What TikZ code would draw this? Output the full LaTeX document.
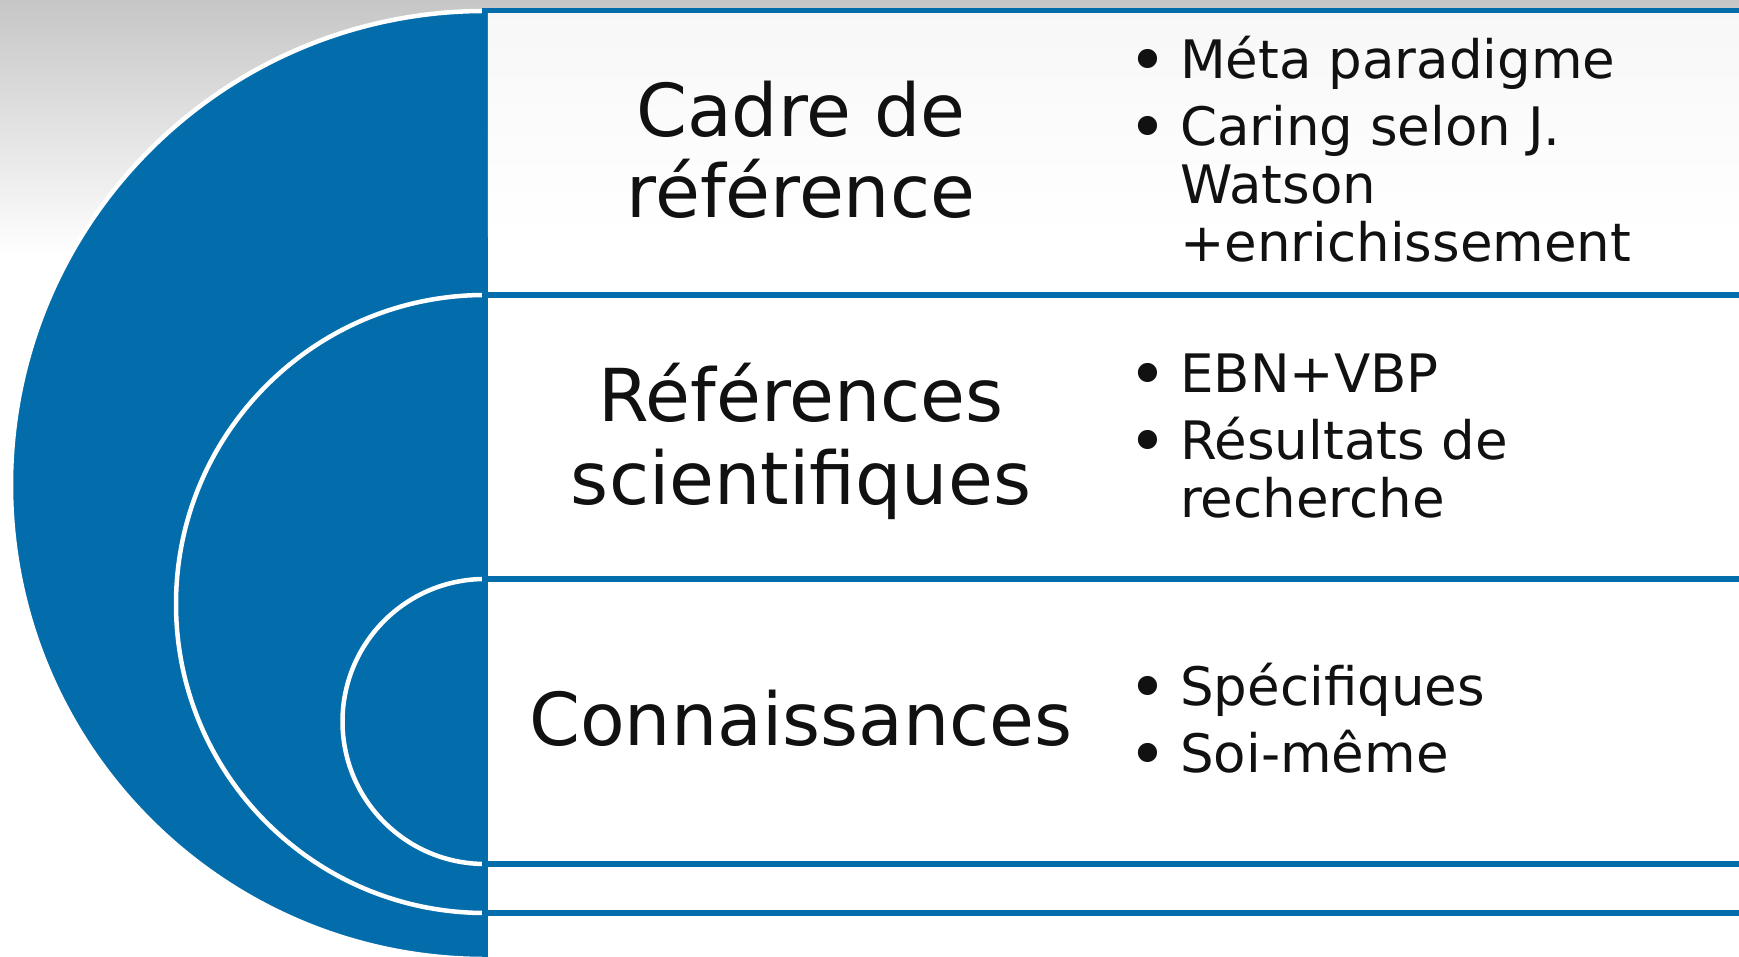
\documentclass[tikz,border=0pt]{standalone}
\usepackage{fontspec}
\setmainfont{DejaVu Sans}
\definecolor{tblue}{RGB}{3,108,170}
\definecolor{ink}{RGB}{17,17,17}
\definecolor{topgray}{RGB}{198,198,198}
\begin{document}
\begin{tikzpicture}[x=1pt,y=1pt,
  title/.style={font=\fontsize{73}{80}\selectfont, text=ink, anchor=base, inner sep=0pt},
  item/.style={font=\fontsize{53}{58}\selectfont, text=ink, anchor=base west, inner sep=0pt},
  dot/.style={font=\fontsize{66}{70}\selectfont, text=ink, anchor=base, inner sep=0pt, yshift=-5pt},
  band/.style={fill=white, draw=tblue, line width=5.5pt},
  half/.style={fill=tblue},
  rim/.style={draw=white, line width=4.5pt}]
\useasboundingbox (0,0) rectangle (1739,957);
\clip (0,0) rectangle (1739,957);
% background
\fill[white] (0,0) rectangle (1739,957);
\shade[top color=topgray, bottom color=white] (0,957) rectangle (1739,700);
% half discs
\fill[half] (485,946) arc[start angle=90,end angle=270,radius=474] -- cycle;
\draw[rim] (485,946) arc[start angle=90,end angle=270,radius=474];
\fill[half] (485,662) arc[start angle=90,end angle=270,radius=309] -- cycle;
\draw[rim] (485,662) arc[start angle=90,end angle=270,radius=309];
\fill[half] (485,378) arc[start angle=90,end angle=270,radius=142.5] -- cycle;
\draw[rim] (485,378) arc[start angle=90,end angle=270,radius=142.5];
% bands
\draw[band] (485,946) rectangle (1770,-30);
\shade[top color=black!3, bottom color=white] (487.75,943.25) rectangle (1770,720);
\draw[band] (485,662) rectangle (1770,44);
\draw[band] (485,378) rectangle (1770,93);
% titles
\node[title] (t1a) at (801,820) {Cadre de};
\node[title] (t1b) at (801,739) {référence};
\node[title] (t2a) at (801,535.5) {Références};
\node[title] (t2b) at (801,452.5) {scientifiques};
\node[title] (t3) at (801,211) {Connaissances};
% items band 1
\node[dot] (b1) at (1148,878.5) {•};
\node[item] (i1) at (1180,878.5) {Méta paradigme};
\node[dot] (b2) at (1148,811) {•};
\node[item] (i2) at (1180,811) {Caring selon J.};
\node[item] (i2b) at (1180,753) {Watson};
\node[item] (i2c) at (1180,695) {+enrichissement};
% items band 2
\node[dot] (b3) at (1148,564.5) {•};
\node[item] (i3) at (1180,564.5) {EBN+VBP};
\node[dot] (b4) at (1148,497.5) {•};
\node[item] (i4) at (1180,497.5) {Résultats de};
\node[item] (i4b) at (1180,439.5) {recherche};
% items band 3
\node[dot] (b5) at (1148,251) {•};
\node[item] (i5) at (1180,251) {Spécifiques};
\node[dot] (b6) at (1148,184.5) {•};
\node[item] (i6) at (1180,184.5) {Soi-même};
\end{tikzpicture}
\end{document}
